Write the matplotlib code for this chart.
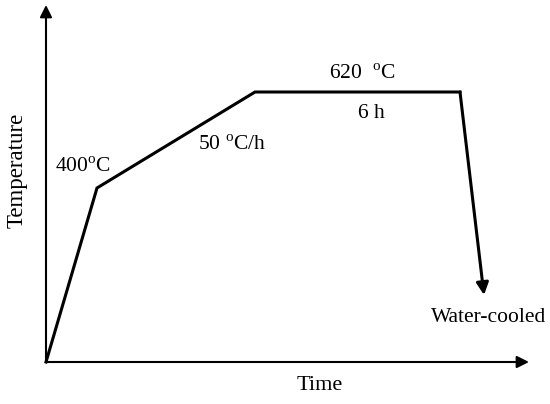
import matplotlib.pyplot as plt

plt.rcParams['font.family'] = ['Liberation Serif', 'DejaVu Serif']
plt.rcParams['mathtext.fontset'] = 'custom'
plt.rcParams['mathtext.rm'] = 'Liberation Serif'

# heat-treatment schedule (arbitrary units, origin at axes corner)
time = [0, 51, 209, 414, 438]
temp = [0, 174, 270, 270, 67]

# stage labels
labels = ['400$^{\\rm o}$C', '50 $^{\\rm o}$C/h', '620  $^{\\rm o}$C', '6 h', 'Water-cooled']
label_xy = [(37, 195), (186, 217), (316, 288), (325, 248), (443, 44)]

fig = plt.figure(figsize=(5.5, 4.04), dpi=100)
ax = fig.add_axes([0, 0, 1, 1])
ax.set_xlim(-46, 504)
ax.set_ylim(-42, 362)
ax.axis('off')

# axes with arrows
arrow_kw = dict(arrowstyle='-|>', color='black', lw=1.5, mutation_scale=18,
                shrinkA=0, shrinkB=0)
ax.annotate('', xy=(483, 0), xytext=(0, 0), arrowprops=arrow_kw)
ax.annotate('', xy=(0, 357), xytext=(0, 0), arrowprops=arrow_kw)

# heating and holding
ax.plot(time[:4], temp[:4], color='black', lw=2.2, solid_joinstyle='miter')
# cooling with arrow
ax.annotate('', xy=(time[4], temp[4]), xytext=(time[3], temp[3]),
            arrowprops=dict(arrowstyle='-|>', color='black', lw=2.2,
                            mutation_scale=18, shrinkA=0, shrinkB=0))

for txt, (x, y) in zip(labels, label_xy):
    ax.text(x, y, txt, fontsize=15.5, ha='center', va='center')

ax.text(-29, 192, 'Temperature', fontsize=16.5, rotation=90, ha='center', va='center')
ax.text(274, -24, 'Time', fontsize=16, ha='center', va='center')

fig.savefig('out.png', dpi=100)
